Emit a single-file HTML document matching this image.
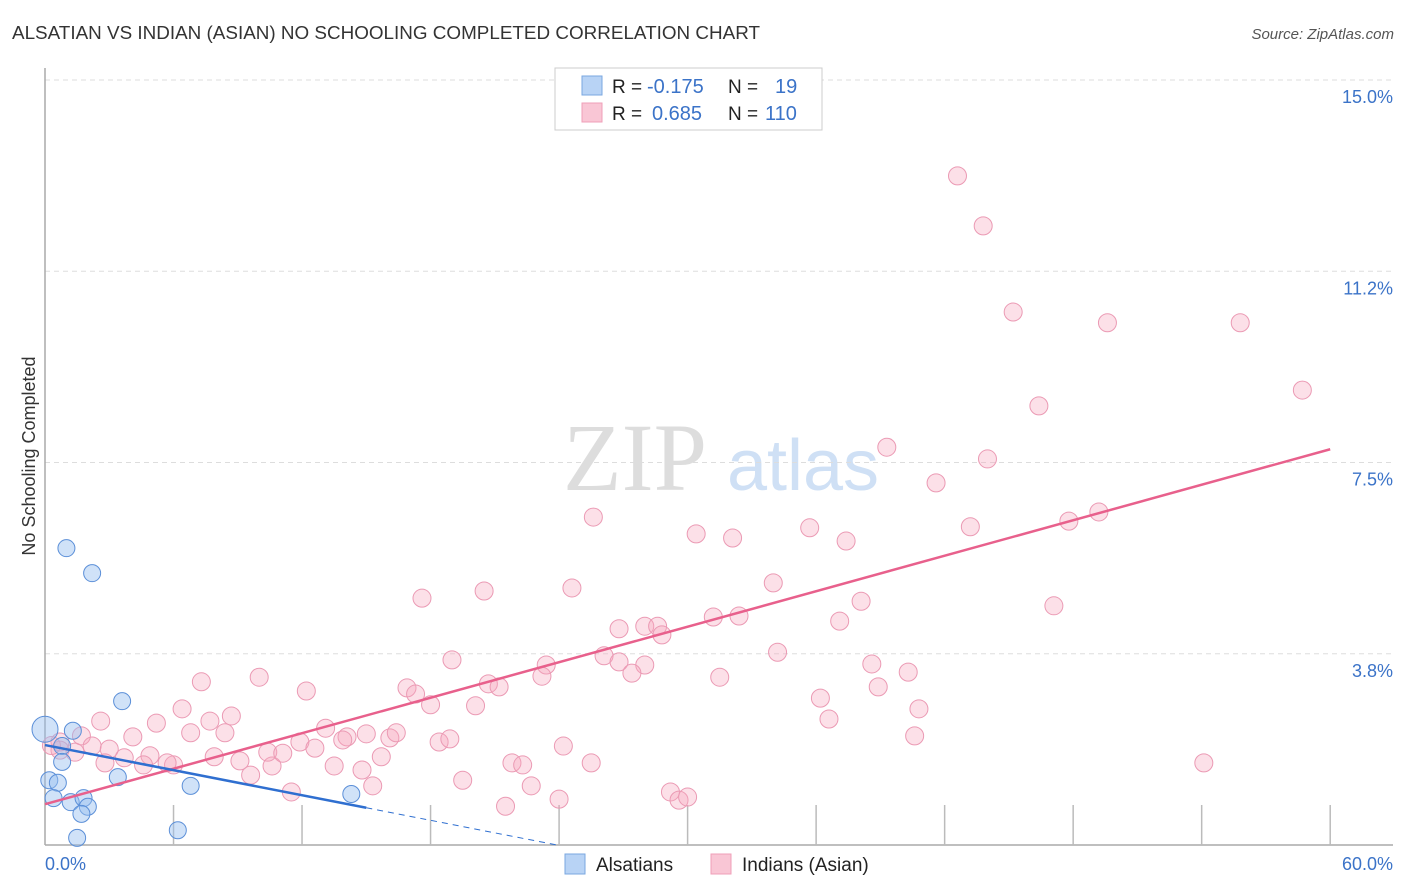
<!DOCTYPE html>
<html><head><meta charset="utf-8"><style>
body{margin:0;background:#fff;font-family:"Liberation Sans",sans-serif;}
svg{display:block}
</style></head><body>
<svg id="chart" width="1406" height="892">
<text x="12" y="39" font-size="18" fill="#333" textLength="748" lengthAdjust="spacingAndGlyphs">ALSATIAN VS INDIAN (ASIAN) NO SCHOOLING COMPLETED CORRELATION CHART</text>
<text x="1394" y="39" font-size="15" fill="#555" font-style="italic" text-anchor="end">Source: ZipAtlas.com</text>
<text x="35" y="456" font-size="18" fill="#333" text-anchor="middle" transform="rotate(-90 35 456)">No Schooling Completed</text>
<g>
<text x="635" y="490" font-size="96" fill="#ddd" font-family="Liberation Serif,serif" text-anchor="middle">ZIP</text>
<text x="803" y="490" font-size="72" fill="#cfe0f5" text-anchor="middle">atlas</text>
</g>
<g id="grid"></g><g id="axes"></g><g id="pts"></g><g id="lines"></g>
<g>
<rect x="555" y="68" width="267" height="62" fill="#fff" stroke="#ccc"/>
<rect x="582" y="76" width="20" height="19" fill="#b8d3f5" stroke="#7aa7e0"/>
<rect x="582" y="103" width="20" height="19" fill="#f9c6d5" stroke="#ef9fb8"/>
<text x="612" y="93" font-size="19" fill="#222">R = </text><text x="647" y="93" font-size="20" fill="#3b73c8">-0.175</text>
<text x="728" y="93" font-size="19" fill="#222">N = </text><text x="775" y="93" font-size="20" fill="#3b73c8">19</text>
<text x="612" y="120" font-size="19" fill="#222">R = </text><text x="652" y="120" font-size="20" fill="#3b73c8">0.685</text>
<text x="728" y="120" font-size="19" fill="#222">N = </text><text x="765" y="120" font-size="20" fill="#3b73c8">110</text>
</g>
<g>
<rect x="565" y="854" width="20" height="20" fill="#b8d3f5" stroke="#7aa7e0"/>
<text x="596" y="871" font-size="19" fill="#222">Alsatians</text>
<rect x="711" y="854" width="20" height="20" fill="#f9c6d5" stroke="#ef9fb8"/>
<text x="742" y="871" font-size="19" fill="#222">Indians (Asian)</text>
</g>
</svg>
<script>
const xTicks=[6,12,18,24,30,36,42,48,54,60];
const yTicks=[3.75,7.5,11.25,15];
const yTickLabels=["3.8%","7.5%","11.2%","15.0%"];
const blueX=[1.0,2.2,3.6,0,1.3,0.8,0.8,0.2,0.6,3.4,6.8,0.4,1.2,1.8,2.0,1.7,1.5,6.2,14.3];
const blueY=[5.82,5.33,2.82,2.27,2.24,1.94,1.63,1.27,1.22,1.33,1.16,0.92,0.84,0.92,0.75,0.61,0.14,0.29,1.0];
const pinkX=[42.6,43.8,45.2,49.6,55.8,58.7,46.4,39.3,44.0,41.6,25.6,43.2,47.8,49.2,30.4,32.1,35.7,37.4,34.0,24.6,20.5,17.6,38.1,47.1,31.2,32.4,37.1,26.8,28.0,28.6,28.8,26.1,26.8,28.0,27.4,23.4,23.2,19.0,34.2,38.6,40.3,31.5,38.9,36.2,40.8,36.6,40.6,54.1,7.3,10.0,12.2,16.9,17.3,18.0,20.7,21.2,20.1,2.6,5.2,6.4,7.7,8.7,6.8,8.4,4.1,1.7,2.2,0.7,0.7,1.4,3.0,3.7,4.9,2.8,4.6,6.0,5.7,7.9,9.1,9.6,10.6,10.4,11.1,11.9,12.6,13.1,14.1,13.9,15.0,13.5,14.8,15.7,16.1,16.4,18.4,18.9,11.5,15.3,19.5,21.5,21.8,22.3,22.7,24.0,24.2,25.5,29.2,29.6,30.0,0.3];
const pinkY=[13.12,12.14,10.45,10.24,10.24,8.92,8.61,7.80,7.57,7.10,6.43,6.24,6.35,6.53,6.10,6.02,6.22,5.96,5.14,5.04,4.98,4.84,4.78,4.69,4.47,4.49,4.39,4.24,4.29,4.29,4.12,3.71,3.59,3.53,3.37,3.53,3.31,3.63,3.78,3.55,3.39,3.29,3.10,2.88,2.67,2.47,2.14,1.61,3.20,3.29,3.02,3.08,2.96,2.75,3.16,3.10,2.73,2.43,2.39,2.67,2.43,2.53,2.20,2.20,2.12,2.14,1.94,2.02,1.86,1.82,1.88,1.71,1.75,1.61,1.57,1.57,1.61,1.73,1.65,1.37,1.55,1.82,1.80,2.02,1.90,2.29,2.12,2.06,2.18,1.55,1.47,1.73,2.10,2.20,2.02,2.08,1.04,1.16,1.27,0.76,1.61,1.57,1.16,0.90,1.94,1.61,1.04,0.88,0.94,1.95];
const pinkTrend=[0.80,7.76];
const blueTrend=[1.96,0.73];
const NS="http://www.w3.org/2000/svg";
const X=v=>45+v*21.42, Y=v=>845-v*51;
function mk(tag,attrs,parent){const e=document.createElementNS(NS,tag);for(const k in attrs)e.setAttribute(k,attrs[k]);document.getElementById(parent).appendChild(e);return e;}
yTicks.forEach((t,i)=>{
 const g=mk('line',{x1:45,x2:1393,y1:Y(t),y2:Y(t),stroke:'#ddd','stroke-dasharray':'5,4'},'grid');
 
 
 const l=mk('text',{x:1393,y:Y(t)+23,'font-size':18,fill:'#3b73c8','text-anchor':'end'},'grid');
 l.textContent=yTickLabels[i];
 
 
});
const ya=mk('line',{x1:45,x2:45,y1:68,y2:845,stroke:'#aaa','stroke-width':1.5},'axes');


const xa=mk('line',{x1:45,x2:1393,y1:845,y2:845,stroke:'#aaa','stroke-width':1.5},'axes');


xTicks.forEach(t=>{const k=mk('line',{x1:X(t),x2:X(t),y1:805,y2:845,stroke:'#bbb','stroke-width':1.5},'axes');
 
 });
const xl0=mk('text',{x:45,y:870,'font-size':18,fill:'#3b73c8'},'axes');xl0.textContent='0.0%';


const xl1=mk('text',{x:1393,y:870,'font-size':18,fill:'#3b73c8','text-anchor':'end'},'axes');xl1.textContent='60.0%';


pinkX.forEach((v,i)=>{const c=mk('circle',{cx:X(v),cy:Y(pinkY[i]),r:9,fill:'rgba(245,165,190,0.35)',stroke:'#eb9ab4','stroke-width':1},'pts');
 
 });
blueX.forEach((v,i)=>{const c=mk('circle',{cx:X(v),cy:Y(blueY[i]),r:i===3?13:8.5,fill:'rgba(150,190,240,0.45)',stroke:'#5b8fd8','stroke-width':1},'pts');
 
 });
const pl=mk('line',{x1:X(0),y1:Y(pinkTrend[0]),x2:X(60),y2:Y(pinkTrend[1]),stroke:'#e8608c','stroke-width':2.5},'lines');


const bs=(blueTrend[1]-blueTrend[0])/15;
const bl=mk('line',{x1:X(0),y1:Y(blueTrend[0]),x2:X(15),y2:Y(blueTrend[1]),stroke:'#2f6fd0','stroke-width':2.5},'lines');


const xe=-blueTrend[0]/bs;
const bd=mk('line',{x1:X(15),y1:Y(blueTrend[1]),x2:X(xe),y2:Y(0),stroke:'#2f6fd0','stroke-width':1,'stroke-dasharray':'6,5'},'lines');


</script>
</body></html>
